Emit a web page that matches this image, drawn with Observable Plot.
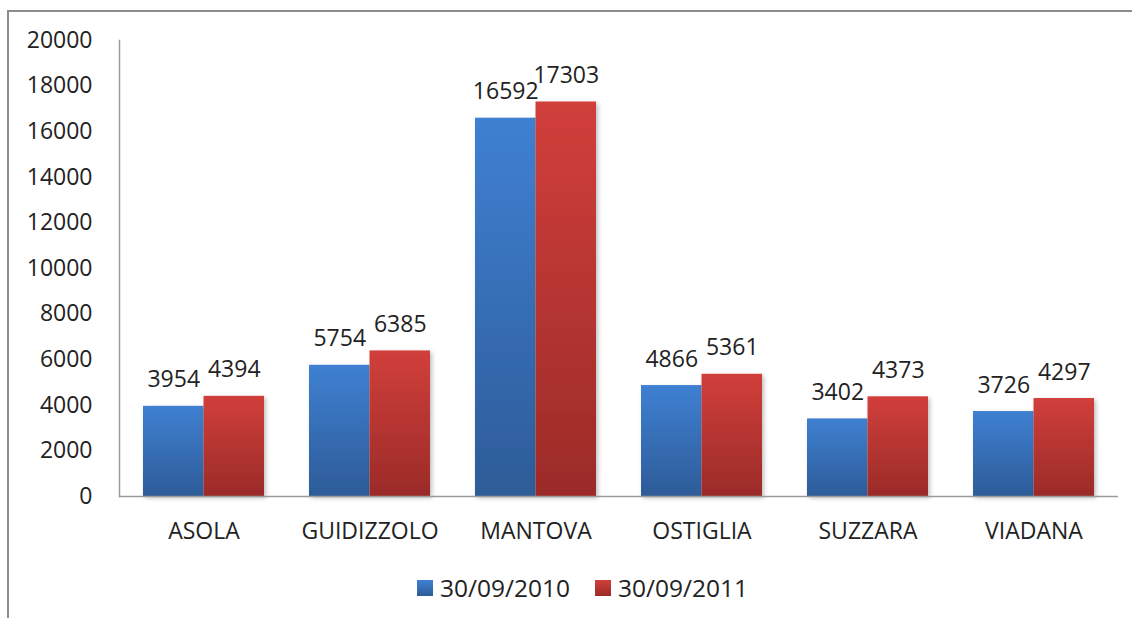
<!DOCTYPE html>
<html><head><meta charset="utf-8">
<script src="https://cdn.jsdelivr.net/npm/d3@7"></script>
<script src="https://cdn.jsdelivr.net/npm/@observablehq/plot@0.6"></script>
<style>
body{margin:0;background:#fff;font-family:"Open Sans",sans-serif;}
#wrap{position:relative;width:1132px;height:618px;overflow:hidden;}
#frame{position:absolute;left:7px;top:10px;width:1140px;height:620px;border-left:2px solid #8c8c8c;border-top:2px solid #8c8c8c;box-sizing:border-box;pointer-events:none;}
#chart{position:absolute;left:0;top:0;}
#legend{position:absolute;left:417px;top:571px;display:flex;font-size:24.5px;color:#222;}
.item{display:flex;align-items:center;margin-right:25px;}
.sw{width:16px;height:16px;margin-right:7px;}
</style></head>
<body>
<div id="wrap"><div id="chart"></div><div id="frame"></div><div id="legend"></div></div>
<script>
const categories = ["ASOLA","GUIDIZZOLO","MANTOVA","OSTIGLIA","SUZZARA","VIADANA"];
const series = ["30/09/2010","30/09/2011"];
const values2010 = [3954,5754,16592,4866,3402,3726];
const values2011 = [4394,6385,17303,5361,4373,4297];
const yTicks = [0,2000,4000,6000,8000,10000,12000,14000,16000,18000,20000];
const gradTop = ["#3f80d2","#d13f3b"];
const gradBot = ["#2d5c98","#9b2b28"];

const W = 1132, H = 560, ML = 119, MR = 14, MT = 40, MB = 64;
const padIn = 0.273, padOut = 0.1365;
const step = (W - ML - MR) / (categories.length - padIn + 2 * padOut);
const half = step * (1 - padIn) / 2;

const d2010 = categories.map((c,i)=>({cat:c, v:values2010[i]}));
const d2011 = categories.map((c,i)=>({cat:c, v:values2011[i]}));

const plot = Plot.plot({
  width:W, height:H,
  marginLeft:ML, marginRight:MR, marginTop:MT, marginBottom:MB,
  style:{fontFamily:"'Open Sans',sans-serif", fontSize:"23px", color:"#222", background:"transparent"},
  x:{domain:categories, paddingInner:padIn, paddingOuter:padOut, label:null, tickSize:0, tickPadding:26},
  y:{domain:[0,20000], ticks:yTicks, tickFormat:d=>String(d), label:null, tickSize:0, tickPadding:27},
  marks:[
    Plot.barY(d2010,{x:"cat", y:"v", fill:"url(#g0)", insetRight:half}),
    Plot.barY(d2011,{x:"cat", y:"v", fill:"url(#g1)", insetLeft:half}),
    Plot.text(d2010,{x:"cat", y:"v", text:d=>String(d.v), lineAnchor:"bottom", dx:-half/2, dy:-19, fontSize:23, fill:"#222"}),
    Plot.text(d2011,{x:"cat", y:"v", text:d=>String(d.v), lineAnchor:"bottom", dx:half/2, dy:-19, fontSize:23, fill:"#222"}),
    Plot.ruleY([0],{stroke:"#9a9a9a", strokeWidth:1.5}),
    Plot.frame({anchor:"left", stroke:"#9a9a9a", strokeWidth:1.5}),
  ]
});

const svg = d3.select(plot);
const defs = svg.insert("defs",":first-child");
[0,1].forEach(i=>{
  const g = defs.append("linearGradient").attr("id","g"+i).attr("x1",0).attr("y1",0).attr("x2",0).attr("y2",1);
  g.append("stop").attr("offset","0%").attr("stop-color",gradTop[i]);
  g.append("stop").attr("offset","100%").attr("stop-color",gradBot[i]);
});
const f = defs.append("filter").attr("id","sh").attr("x","-10%").attr("y","-10%").attr("width","130%").attr("height","130%");
f.append("feDropShadow").attr("dx",2).attr("dy",2).attr("stdDeviation",2).attr("flood-color","#000").attr("flood-opacity",0.25);
svg.selectAll("g[aria-label='bar'] rect").attr("filter","url(#sh)");
document.getElementById("chart").appendChild(plot);

const legend = document.getElementById("legend");
series.forEach((s,i)=>{
  const it = document.createElement("div"); it.className="item";
  const sw = document.createElement("div"); sw.className="sw";
  sw.style.background = `linear-gradient(${gradTop[i]}, ${gradBot[i]})`;
  const t = document.createElement("span"); t.textContent = s;
  it.appendChild(sw); it.appendChild(t); legend.appendChild(it);
});
</script>
</body></html>
